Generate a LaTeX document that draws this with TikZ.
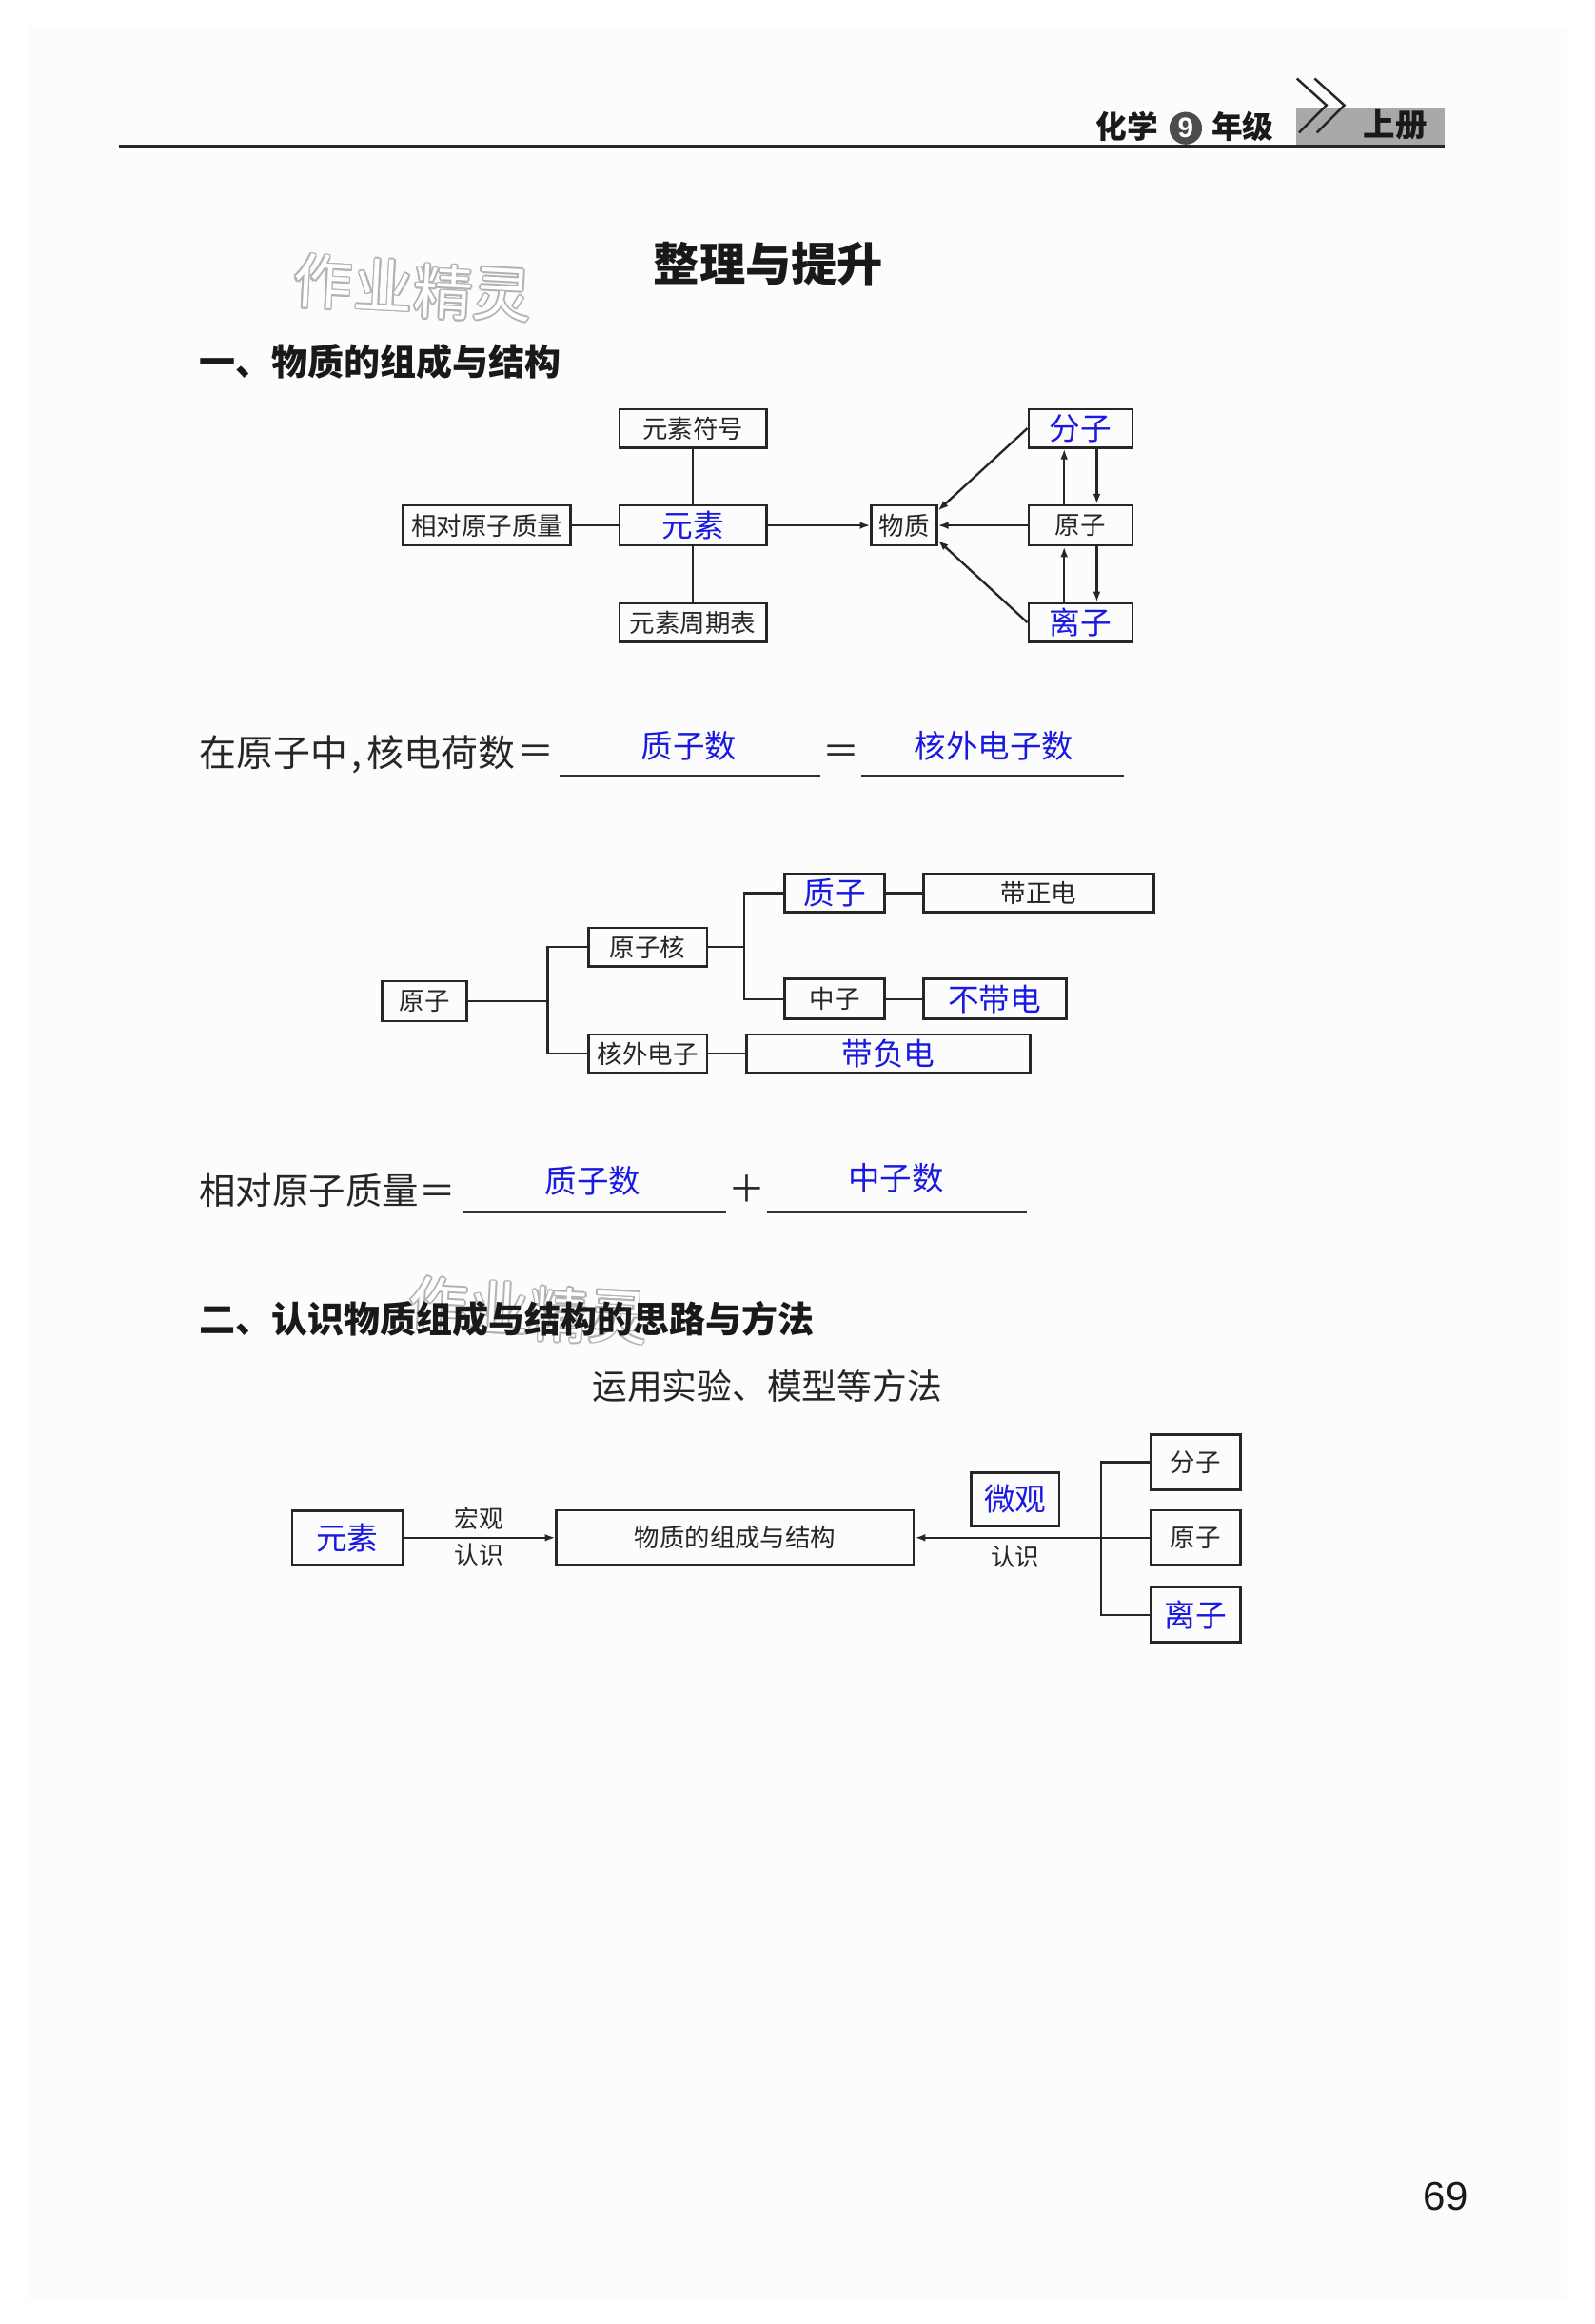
\documentclass[tikz,border=0pt]{standalone}
\usepackage{fontspec}
\usetikzlibrary{arrows.meta,calc}
\newfontfamily\song{Noto Sans CJK SC}
\newfontfamily\hei{Noto Sans CJK SC}
\newfontfamily\arialf{Liberation Sans}
\newcommand\fsz[1]{\fontsize{#1}{#1}\selectfont}
\definecolor{ansblue}{RGB}{25,25,225}
\definecolor{pagebg}{RGB}{252,252,252}
\definecolor{hdrgray}{RGB}{168,168,168}
\newcommand\wmchar[5]{%
  \foreach \a in {0,45,...,315}{\node[wmo,rotate=#4] at ($(#2,#3)+(\a:1.1)$) {#5};}
  \node[wmi,rotate=#4] (#1) at (#2,#3) {#5};}
\tikzset{
  bx/.style={draw=black!85,line width=1.7pt,inner sep=0pt,minimum height=26pt,text=black!85,font=\song\fsz{17}},
  bxb/.style={bx,text=ansblue,font=\song\fsz{21}},
  blu/.style={text=ansblue,font=\song\fsz{21.5}},
  ln/.style={draw=black!85,line width=1.5pt},
  ar/.style={ln,-{Latex[length=7pt,width=5pt]}},
  uline/.style={draw=black!80,line width=1.3pt},
  body/.style={text=black!85,font=\song\fsz{25}},
  hd/.style={anchor=west,text=black!90,font=\hei\bfseries\fsz{24.4}},
  wmo/.style={text=gray!60,font=\hei\fsz{40},inner sep=0pt},
  wmi/.style={text=white,font=\hei\fsz{40},inner sep=0pt},
  hdr/.style={font=\hei\bfseries\fsz{21},text=black!90},
}
\begin{document}
\begin{tikzpicture}[x=1pt,y=-1pt]
\useasboundingbox (0,0) rectangle (1076,1568);
\fill[white] (0,0) rectangle (1076,1568);
\fill[pagebg] (18.6,18) rectangle (1057.4,1552);

% ---------- header ----------
\fill[hdrgray] (874.3,72.4) rectangle (974.5,98);
\draw[line width=1.7pt,black!85] (80,98.5) -- (975,98.5);
\draw[line width=1.6pt,black!85] (875,53) -- (895,71) -- (876.5,89.5);
\draw[line width=1.6pt,black!85] (887,53) -- (907,71) -- (888.5,89.5);
\node[hdr] (hx) at (760.5,85.5) {化学};
\node[circle,fill=black!70,minimum size=22pt,inner sep=0pt,text=white,font=\arialf\bfseries\fsz{19}] (nine) at (800,86.5) {9};
\node[hdr] (nj) at (838.5,85.5) {年级};
\node[hdr,font=\hei\bfseries\fsz{21.5}] (sc) at (941.5,84) {上册};

% ---------- watermarks ----------
\wmchar{wa1}{218}{190}{-3}{作}
\wmchar{wa2}{259}{192}{-3}{业}
\wmchar{wa3}{299}{197}{-3}{精}
\wmchar{wa4}{339}{199}{-3}{灵}
\wmchar{wb1}{296}{880}{-3}{作}
\wmchar{wb2}{337}{882}{-3}{业}
\wmchar{wb3}{377}{887}{-3}{精}
\wmchar{wb4}{417}{889}{-3}{灵}

% ---------- title & headings ----------
\node[text=black!90,font=\song\bfseries\fsz{31}] (title) at (518.5,178) {整理与提升};
\node[hd] (h1) at (131,244) {一、物质的组成与结构};
\node[hd] (h2) at (131,890) {二、认识物质组成与结构的思路与方法};

% ---------- diagram 1 ----------
\node[bx,minimum width=99pt] (ysfh) at (467.5,289) {元素符号};
\node[bx,minimum width=113pt,minimum height=27pt] (xdyz) at (328.5,354.5) {相对原子质量};
\node[bxb,minimum width=99pt,minimum height=27pt] (ys) at (467.5,354.5) {元素};
\node[bx,minimum width=99pt] (zqb) at (467.5,420) {元素周期表};
\node[bx,minimum width=44pt,minimum height=27pt] (wz) at (610,354.5) {物质};
\node[bxb,minimum width=70pt] (fz) at (729,289) {分子};
\node[bx,minimum width=70pt,minimum height=27pt] (yz) at (729,354.5) {原子};
\node[bxb,minimum width=70pt] (lz) at (729,420) {离子};
\draw[ln] (ysfh) -- (ys);
\draw[ln] (ys) -- (zqb);
\draw[ln] (xdyz) -- (ys);
\draw[ar] (ys) -- (wz);
\draw[ar] (yz) -- (wz);
\draw[ar] (fz.west) -- ($(wz.east)+(0,-10)$);
\draw[ar] (lz.west) -- ($(wz.east)+(0,10)$);
\draw[ar] ($(yz.north)+(-11,0)$) -- ($(fz.south)+(-11,0)$);
\draw[ar] ($(fz.south)+(11,0)$) -- ($(yz.north)+(11,0)$);
\draw[ar] ($(lz.north)+(-11,0)$) -- ($(yz.south)+(-11,0)$);
\draw[ar] ($(yz.south)+(11,0)$) -- ($(lz.north)+(11,0)$);

% ---------- equation 1 ----------
\node[body,anchor=west] (e1a) at (131,509) {在原子中\makebox[13pt]{,}核电荷数};
\node[body] (e1b) at (361.5,509) {＝};
\draw[uline] (377.4,523) -- (553.4,523);
\node[blu] (a1) at (465,503) {质子数};
\node[body] (e1c) at (567.7,509) {＝};
\draw[uline] (581.3,523) -- (758.5,523);
\node[blu] (a2) at (670.7,503) {核外电子数};

% ---------- diagram 2 ----------
\node[bx,minimum width=57pt,minimum height=27pt] (yz2) at (286.5,675.5) {原子};
\node[bx,minimum width=80pt] (yzh) at (437,639) {原子核};
\node[bx,minimum width=80pt] (hwdz) at (437,711) {核外电子};
\node[bxb,minimum width=67.4pt] (zz) at (563.3,602.5) {质子};
\node[bx,minimum width=67.4pt,minimum height=27pt] (zhz) at (563.3,674) {中子};
\node[bx,minimum width=155.6pt] (dzd) at (700.8,602.5) {带正电};
\node[bxb,minimum width=96.4pt,minimum height=27pt] (bdd) at (671.2,674) {不带电};
\node[bxb,minimum width=191.5pt] (dfd) at (599.3,711) {带负电};
\coordinate (t1) at (369.5,0);
\coordinate (t2) at (502,0);
\draw[ln] (yz2.east) -- (yz2.east -| t1);
\draw[ln] (yzh.west) -| (t1 |- hwdz.west) -- (hwdz.west);
\draw[ln] (yzh.east) -- (yzh.east -| t2);
\draw[ln] (zz.west) -| (t2 |- zhz.west) -- (zhz.west);
\draw[ln] (zz) -- (dzd);
\draw[ln] (zhz) -- (bdd);
\draw[ln] (hwdz) -- (dfd);

% ---------- equation 2 ----------
\node[body,anchor=west,font=\song\fsz{24.7}] (e2a) at (131,803) {相对原子质量＝};
\draw[uline] (312.4,818) -- (489.6,818);
\node[blu] (a3) at (400,797) {质子数};
\node[body] (e2b) at (503.7,802) {＋};
\draw[uline] (517.8,818) -- (693.1,818);
\node[blu] (a4) at (604.5,795) {中子数};

% ---------- section 2 ----------
\node[body,font=\song\fsz{23.6}] (meth) at (517.6,935) {运用实验、模型等方法};
\node[bxb,minimum width=74.5pt,minimum height=36pt] (ys3) at (234.3,1037.5) {元素};
\node[bx,minimum width=241pt,minimum height=37pt] (wzzc) at (496,1037.5) {物质的组成与结构};
\node[bxb,minimum width=59.4pt,minimum height=36pt] (wg) at (685,1011.5) {微观};
\node[bx,minimum width=60.3pt,minimum height=37pt] (fz3) at (806.7,986.5) {分子};
\node[bx,minimum width=60.3pt,minimum height=37pt] (yz3) at (806.7,1037.5) {原子};
\node[bxb,minimum width=60.3pt,minimum height=37pt] (lz3) at (806.7,1089.5) {离子};
\coordinate (t3) at (742.7,0);
\draw[ln] (fz3.west) -| (t3 |- lz3.west) -- (lz3.west);
\draw[ar] (yz3.west) -- (wzzc.east);
\draw[ar] (ys3.east) -- (wzzc.west);
\node[text=black!85,font=\song\fsz{16.5}] (hg) at (323,1024.5) {宏观};
\node[text=black!85,font=\song\fsz{16.5}] (rs1) at (323,1049) {认识};
\node[text=black!85,font=\song\fsz{16.5}] (rs2) at (685,1050.5) {认识};

% ---------- page number ----------
\node[text=black!90,font=\arialf\fsz{27}] (pg) at (975.4,1482) {69};
\end{tikzpicture}
\end{document}
